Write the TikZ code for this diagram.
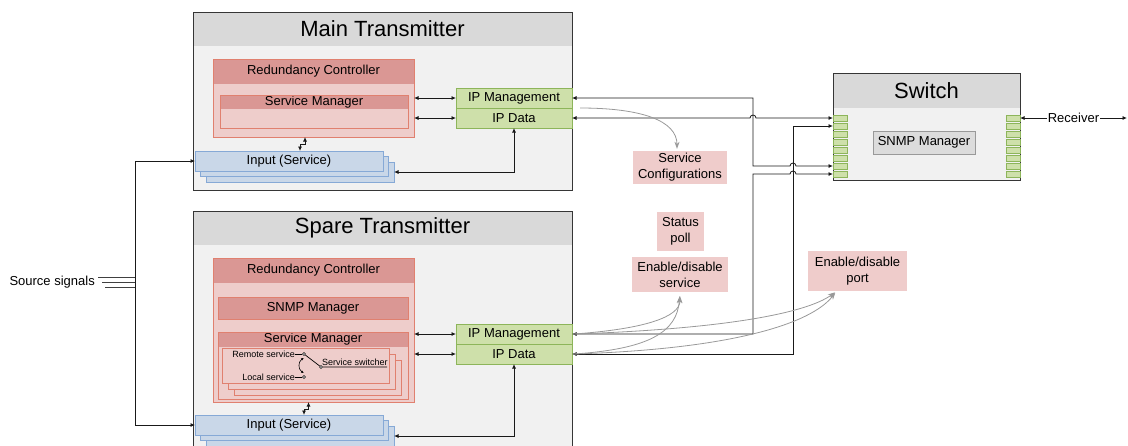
\documentclass[tikz,border=0pt]{standalone}
\usepackage{fontspec}
\setmainfont{Liberation Sans}
\usetikzlibrary{arrows.meta}
\usetikzlibrary{positioning}

\definecolor{framefill}{HTML}{F1F1F1}
\definecolor{framedraw}{HTML}{363636}
\definecolor{titlefill}{HTML}{D9D9D9}
\definecolor{rcdark}{HTML}{DA9794}
\definecolor{rclight}{HTML}{EECDCB}
\definecolor{rcdraw}{HTML}{E0806F}
\definecolor{ipfill}{HTML}{CEE0AA}
\definecolor{ipdraw}{HTML}{8DB55A}
\definecolor{infill}{HTML}{C9D7E8}
\definecolor{indraw}{HTML}{86A9D6}
\definecolor{notefill}{HTML}{EFCCCB}
\definecolor{snmpfill}{HTML}{DCDCDC}

\begin{document}
\begin{tikzpicture}[x=1pt, y=-1pt,
  box/.style={anchor=north west, inner sep=0pt, outer sep=0pt},
  frame/.style={box, fill=framefill},
  titlebar/.style={box, fill=titlefill, font=\fontsize{22}{26}\selectfont},
  redbody/.style={box, fill=rclight},
  redhead/.style={box, fill=rcdark, font=\fontsize{13}{15}\selectfont},
  ipbox/.style={box, fill=ipfill, draw=ipdraw, line width=0.8pt, minimum width=116pt, minimum height=20pt, font=\fontsize{13}{15}\selectfont},
  inbox/.style={box, fill=infill, draw=indraw, line width=0.8pt, minimum width=188pt, minimum height=20pt, font=\fontsize{13}{15}\selectfont},
  port/.style={box, fill=ipfill, draw=ipdraw, line width=0.7pt, minimum width=14pt, minimum height=6pt},
  note/.style={fill=notefill, inner sep=0pt, align=center, font=\fontsize{13}{16}\selectfont},
  conn/.style={draw=black!90, line width=0.8pt, {Latex[length=4.5pt,width=4pt]}-{Latex[length=4.5pt,width=4pt]}},
  feed/.style={draw=black!90, line width=0.8pt, -{Latex[length=4.5pt,width=4pt]}},
  cfg/.style={draw=gray!80, line width=0.8pt, -{Stealth[length=7pt,width=5pt]}},
  dot/.style={circle, draw=black, fill=white, line width=0.6pt, inner sep=0pt, minimum size=3pt},
  tinytext/.style={font=\fontsize{9}{11}\selectfont, inner sep=0pt}
]
\path[use as bounding box, clip] (0,0) rectangle (1128,445);

% ---------- main transmitter ----------
\node[frame, minimum width=379pt, minimum height=178pt] (mainTx) at (193,12) {};
\node[titlebar, minimum width=379pt, minimum height=34pt] (mainTitle) at (193,12) {Main Transmitter};
\draw[framedraw, line width=0.9pt] (mainTx.north west) rectangle (mainTx.south east);

\node[redbody, minimum width=201pt, minimum height=78pt] (rcM) at (213,59) {};
\node[redhead, minimum width=201pt, minimum height=25pt] at (213,59) {Redundancy Controller};
\draw[rcdraw, line width=0.8pt] (rcM.north west) rectangle (rcM.south east);
\node[redbody, minimum width=188pt, minimum height=33pt] (smM) at (220,95) {};
\node[redhead, minimum width=188pt, minimum height=14pt] at (220,95) {Service Manager};
\draw[rcdraw, line width=0.8pt] (smM.north west) rectangle (smM.south east);

\node[ipbox] (ipMgmtM) at (456,88) {IP Management};
\node[ipbox, below=0pt of ipMgmtM] (ipDataM) {IP Data};

\node[inbox] (inM3) at (206,162) {};
\node[inbox] (inM2) at (200.5,156.5) {};
\node[inbox] (inM1) at (195,151) {Input (Service)};

\draw[conn] (rcM.east |- ipMgmtM.west) -- (ipMgmtM.west);
\draw[conn] (rcM.east |- ipDataM.west) -- (ipDataM.west);
\draw[conn] ([xshift=-8.5pt]rcM.south) -- ++(0,7) -| ([xshift=11pt]inM1.north);
\draw[conn] (ipDataM.south) |- (inM3.east);

% ---------- spare transmitter ----------
\node[frame, minimum width=379pt, minimum height=250pt] (spareTx) at (193,211) {};
\node[titlebar, minimum width=379pt, minimum height=34pt] (spareTitle) at (193,211) {Spare Transmitter};
\draw[framedraw, line width=0.9pt] (spareTx.north west) rectangle (spareTx.south east);

\node[redbody, minimum width=201pt, minimum height=144pt] (rcS) at (213,258) {};
\node[redhead, minimum width=201pt, minimum height=25pt] at (213,258) {Redundancy Controller};
\draw[rcdraw, line width=0.8pt] (rcS.north west) rectangle (rcS.south east);
\node[redhead, draw=rcdraw, line width=0.8pt, minimum width=190pt, minimum height=22pt] (snmpS) at (218,297) {SNMP Manager};
\node[redbody, minimum width=190pt, minimum height=67pt] (smS) at (218,332) {};
\node[redhead, minimum width=190pt, minimum height=15pt] at (218,332) {Service Manager};
\draw[rcdraw, line width=0.8pt] (smS.north west) rectangle (smS.south east);

% stacked service switchers
\node[redbody, draw=rcdraw, line width=0.8pt, minimum width=167pt, minimum height=35pt] (swc3) at (234,360) {};
\node[redbody, draw=rcdraw, line width=0.8pt, minimum width=167pt, minimum height=35pt] (swc2) at (228,354) {};
\node[redbody, draw=rcdraw, line width=0.8pt, minimum width=167pt, minimum height=35pt] (swc1) at (222,348) {};
\node[tinytext, anchor=east] (remoteLbl) at (295,354) {Remote service};
\node[tinytext, anchor=east] (localLbl) at (295,377) {Local service};
\node[dot] (remoteDot) at (304,354) {};
\node[dot] (localDot) at (304,377) {};
\node[dot] (pivotDot) at (321,367) {};
\coordinate (switcherEnd) at (387,367);
\draw[line width=0.7pt] (remoteLbl.east) -- (remoteDot);
\draw[line width=0.7pt] (localLbl.east) -- (localDot);
\draw[line width=0.7pt] (remoteDot) -- (pivotDot) -- (switcherEnd);
\node[tinytext, anchor=base west] (switcherLbl) at (322,365) {Service switcher};
\draw[line width=0.6pt, {Latex[length=3pt,width=2.5pt]}-{Latex[length=3pt,width=2.5pt]}]
  ([yshift=-2pt]remoteDot.south) .. controls +(-6,4) and +(-6,-4) .. ([yshift=2pt]localDot.north);

\node[ipbox] (ipMgmtS) at (456,324) {IP Management};
\node[ipbox, below=0pt of ipMgmtS] (ipDataS) {IP Data};

\node[inbox] (inS3) at (206,426) {};
\node[inbox] (inS2) at (200.5,420.5) {};
\node[inbox] (inS1) at (195,415) {Input (Service)};

\draw[conn] (rcS.east |- ipMgmtS.west) -- (ipMgmtS.west);
\draw[conn] (rcS.east |- ipDataS.west) -- (ipDataS.west);
\draw[conn] ([xshift=-5pt]rcS.south) -- ++(0,7) -| ([xshift=15pt]inS1.north);
\draw[conn] (ipDataS.south) |- (inS3.east);

% ---------- source signals ----------
\node[font=\fontsize{13}{15}\selectfont, inner sep=0pt, anchor=east] (srcLbl) at (95,282) {Source signals};
\coordinate (bus) at (135,282);
\draw[black!75, line width=0.8pt] (98,277) -- (bus |- 0,277);
\draw[black!75, line width=0.8pt] (102,282) -- (bus);
\draw[black!75, line width=0.8pt] (105,287) -- (bus |- 0,287);
\draw[feed] (bus) |- (inM1.west);
\draw[feed] (bus) |- (inS1.west);

% ---------- switch ----------
\node[frame, minimum width=187pt, minimum height=107pt] (sw) at (833,73) {};
\node[titlebar, minimum width=187pt, minimum height=35pt] (swTitle) at (833,73) {Switch};
\draw[framedraw, line width=0.9pt] (sw.north west) rectangle (sw.south east);
\node[box, fill=snmpfill, draw=gray!80, line width=0.8pt, minimum width=102pt, minimum height=23pt, font=\fontsize{13}{15}\selectfont] (swSnmp) at (873,131) {SNMP Manager};
\foreach \i in {1,...,8} {
  \node[port] (swL\i) at (833,107+8*\i) {};
  \node[port, anchor=north east] (swR\i) at (1020,107+8*\i) {};
}
\coordinate (riserA) at (753,0);
\coordinate (riserB) at (793,0);
\coordinate (rcvEnd) at (1127,118);

\draw[conn] (ipMgmtM.east) -| (riserA |- swL7.west) -- (790,166) arc[start angle=180, end angle=360, radius=3] -- (swL7.west);
\draw[conn] (ipDataM.east) -- (750,118) arc[start angle=180, end angle=360, radius=3] -- (swL1.west);
\draw[conn] (ipDataS.east) -| (riserB |- swL2.west) -- (swL2.west);
\draw[conn] (ipMgmtS.east) -| (riserA |- swL8.west) -- (790,174) arc[start angle=180, end angle=360, radius=3] -- (swL8.west);
\draw[conn] (swR1.east) -- node[fill=white, inner sep=1pt, font=\fontsize{13}{15}\selectfont] {Receiver} (rcvEnd);

% ---------- management messages ----------
\node[note, minimum width=94pt, minimum height=33pt] (svcCfg) at (680,167.5) {Service\\Configurations};
\node[note, minimum width=47pt, minimum height=39pt] (statusPoll) at (680.5,231.5) {Status\\poll};
\node[note, minimum width=96pt, minimum height=35pt] (svcOn) at (680,274.5) {Enable/disable\\service};
\node[note, minimum width=99pt, minimum height=40pt] (portOn) at (857.5,271) {Enable/disable\\port};

\draw[cfg, shorten >=2pt] ([xshift=8pt]ipMgmtM.south east) .. controls +(62,0) and +(0,-30) .. ([xshift=-3pt]svcCfg.north);
\draw[cfg, shorten >=4pt] ([xshift=2pt]ipMgmtS.east) .. controls +(70,-5) and +(0,25) .. (svcOn.south);
\draw[cfg, shorten >=4pt] ([xshift=2pt]ipDataS.east) .. controls +(75,-5) and +(-3,40) .. (svcOn.south);
\draw[cfg, shorten >=2pt] ([xshift=2pt]ipMgmtS.east) .. controls +(150,-5) and +(-30,22) .. ([xshift=-21pt]portOn.south);
\draw[cfg, shorten >=2pt] ([xshift=2pt]ipDataS.east) .. controls +(160,-5) and +(-25,32) .. ([xshift=-21pt]portOn.south);
\end{tikzpicture}
\end{document}
